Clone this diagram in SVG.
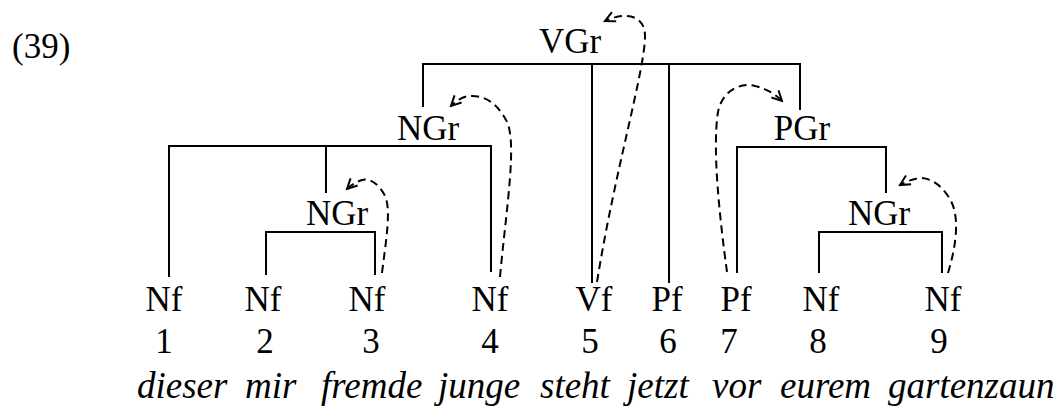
<svg xmlns="http://www.w3.org/2000/svg" width="1063" height="408" viewBox="0 0 1063 408">
<style>
text{font-family:"Liberation Serif","Times New Roman",serif;fill:#000}
.lab{font-size:35px;text-anchor:middle}
.num{font-size:35px;text-anchor:middle}
.w{font-size:37px;font-style:italic}
.t{stroke:#000;stroke-width:2;fill:none}
.d{stroke:#000;stroke-width:2;fill:none;stroke-dasharray:8 5;marker-end:url(#ah)}
</style>
<defs>
<marker id="ah" viewBox="-12 -7 14 14" refX="0" refY="0" markerWidth="14" markerHeight="14" markerUnits="userSpaceOnUse" orient="auto">
<path d="M-10,-5 L0,0 L-10,5" fill="none" stroke="#000" stroke-width="2"/>
</marker>
</defs>
<rect width="1063" height="408" fill="#fff"/>
<text x="12" y="58" style="font-size:35px">(39)</text>
<g id="connectors">
<path class="t" d="M423,107 V64 H800 V110 M592,64 V283 M669,64 V283"/>
<path class="t" d="M169,277 V146 H491 V272 M326,146 V193"/>
<path class="t" d="M266,275 V232 H375 V275"/>
<path class="t" d="M737,273 V147 H886 V193"/>
<path class="t" d="M819,273 V232 H942 V273"/>
<path class="d" d="M597,282 C 615,170 645,70 645,36 C 645,14 624,12 605,21"/>
<path class="d" d="M500,277 C 506,210 518,140 506,120 C 496,101 482,95 469,96 C 462,97 456,101 451,106"/>
<path class="d" d="M382,273 C 386,240 392,207 384,194 C 378,183 369,178 362,180 C 356,182 351,185 347,189"/>
<path class="d" d="M727,272 C 720,220 712,150 718,112 C 722,91 740,82 755,86 C 768,89 776,95 782,101"/>
<path class="d" d="M948,273 C 955,250 962,215 948,196 C 940,184 930,178 920,178 C 912,179 905,182 900,185"/>
</g>
<g id="VGr"><text class="lab" x="570" y="53">VGr</text></g>
<g id="NGr1"><text class="lab" x="428" y="140">NGr</text></g>
<g id="NGr2"><text class="lab" x="337" y="225">NGr</text></g>
<g id="PGr"><text class="lab" x="802" y="140">PGr</text></g>
<g id="NGr3"><text class="lab" x="879" y="225">NGr</text></g>
<g id="leaf1"><text class="lab" x="164" y="311">Nf</text><text class="num" x="164" y="353">1</text><text class="w" x="137" y="398">dieser</text></g>
<g id="leaf2"><text class="lab" x="263" y="311">Nf</text><text class="num" x="265" y="353">2</text><text class="w" x="245" y="398">mir</text></g>
<g id="leaf3"><text class="lab" x="367" y="311">Nf</text><text class="num" x="371" y="353">3</text><text class="w" x="321" y="398">fremde</text></g>
<g id="leaf4"><text class="lab" x="490" y="311">Nf</text><text class="num" x="490" y="353">4</text><text class="w" x="438" y="398">junge</text></g>
<g id="leaf5"><text class="lab" x="594" y="311">Vf</text><text class="num" x="590" y="353">5</text><text class="w" x="540" y="398">steht</text></g>
<g id="leaf6"><text class="lab" x="667" y="311">Pf</text><text class="num" x="668" y="353">6</text><text class="w" x="627" y="398">jetzt</text></g>
<g id="leaf7"><text class="lab" x="736" y="311">Pf</text><text class="num" x="729" y="353">7</text><text class="w" x="712" y="398">vor</text></g>
<g id="leaf8"><text class="lab" x="821" y="311">Nf</text><text class="num" x="818" y="353">8</text><text class="w" x="780" y="398">eurem</text></g>
<g id="leaf9"><text class="lab" x="943" y="311">Nf</text><text class="num" x="939" y="353">9</text><text class="w" x="888" y="398">gartenzaun</text></g>
</svg>
